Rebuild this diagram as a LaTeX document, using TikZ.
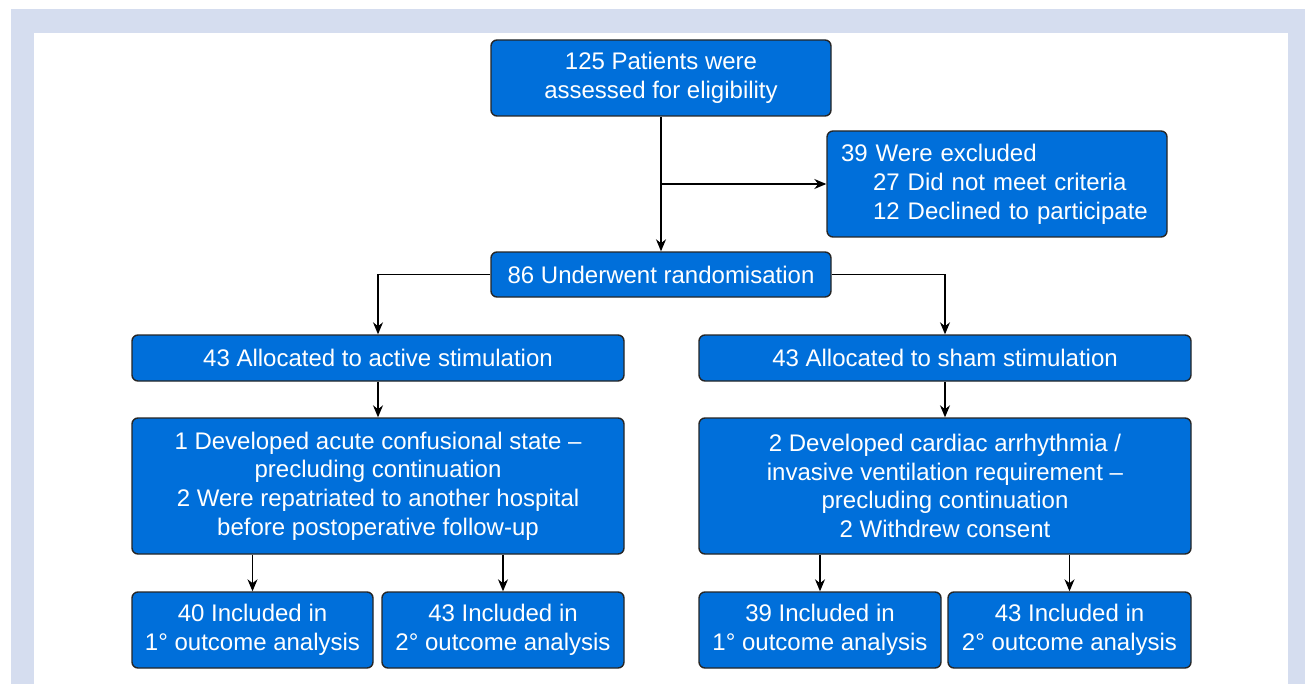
\documentclass[tikz,border=0pt]{standalone}
\usepackage{fontspec}
\setmainfont{Liberation Sans}
\usetikzlibrary{arrows.meta}
\definecolor{boxblue}{RGB}{0,111,218}
\definecolor{lav}{RGB}{213,221,239}
\begin{document}
\begin{tikzpicture}[x=0.5pt,y=-0.5pt,
  box/.style={draw=black!85,line width=0.7pt,fill=boxblue,rounded corners=3pt,text=white,
    font=\fontsize{12}{14.4}\selectfont,align=center,inner sep=0pt},
  conn/.style={draw=black,line width=0.6pt,-{Stealth[length=6pt,width=5pt]}}]
\useasboundingbox (0,0) rectangle (1305,684);
\fill[lav] (11,9) rectangle (1305,684);
\fill[white] (34,33) rectangle (1288,684);
\node[box,minimum width=170pt,minimum height=38pt] (top) at (661,78) {125 Patients were\\assessed for eligibility};
\node[box,minimum width=170pt,minimum height=53pt,align=left,text width=156pt] (excl) at (997,184)
  {39 Were excluded\\\hspace*{16pt}27 Did not meet criteria\\\hspace*{16pt}12 Declined to participate};
\node[box,minimum width=170pt,minimum height=22.5pt] (rand) at (661,274.5) {86 Underwent randomisation};
\node[box,minimum width=246pt,minimum height=23pt] (act) at (378,358) {43 Allocated to active stimulation};
\node[box,minimum width=246pt,minimum height=23pt] (sham) at (945,358) {43 Allocated to sham stimulation};
\node[box,minimum width=246pt,minimum height=68pt] (actd) at (378,486)
  {1 Developed acute confusional state –\\precluding continuation\\2 Were repatriated to another hospital\\before postoperative follow-up};
\node[box,minimum width=246pt,minimum height=68pt] (shamd) at (945,486)
  {\mbox{2 Developed cardiac arrhythmia /}\\invasive ventilation requirement –\\precluding continuation\\2 Withdrew consent};
\node[box,minimum width=120.5pt,minimum height=38pt] (b1) at (252.5,630) {40 Included in\\1° outcome analysis};
\node[box,minimum width=121pt,minimum height=38pt] (b2) at (503,630) {43 Included in\\2° outcome analysis};
\node[box,minimum width=121pt,minimum height=38pt] (b3) at (820,630) {39 Included in\\1° outcome analysis};
\node[box,minimum width=121.5pt,minimum height=38pt] (b4) at (1069.5,630) {43 Included in\\2° outcome analysis};
\coordinate (br) at (661,184);
\draw[conn] (top) -- (rand);
\draw[conn] (br) -- (excl.west |- br);
\draw[conn] (rand.west) -| (act.north);
\draw[conn] (rand.east) -| (sham.north);
\draw[conn] (act) -- (actd);
\draw[conn] (sham) -- (shamd);
\draw[conn] (actd.south -| b1) -- (b1);
\draw[conn] (actd.south -| b2) -- (b2);
\draw[conn] (shamd.south -| b3) -- (b3);
\draw[conn] (shamd.south -| b4) -- (b4);
\end{tikzpicture}
\end{document}
